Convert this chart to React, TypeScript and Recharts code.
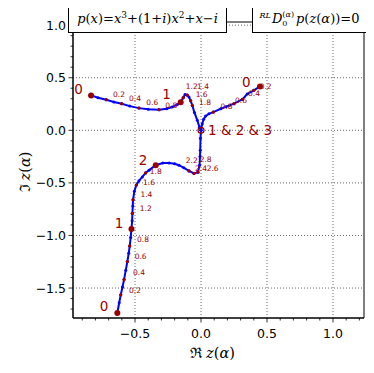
import React from 'react';
import { ScatterChart, Scatter, XAxis, YAxis, ReferenceLine, ReferenceArea, Label } from 'recharts';

// axis ranges and ticks (major every 0.5, minor every 0.1)
const xDomain = [-0.97, 1.235];
const yDomain = [-1.785, 1.03];
const xTickValues = [-0.9, -0.8, -0.7, -0.6, -0.5, -0.4, -0.3, -0.2, -0.1, 0, 0.1, 0.2, 0.3, 0.4, 0.5, 0.6, 0.7, 0.8, 0.9, 1.0, 1.1, 1.2];
const yTickValues = [-1.7, -1.6, -1.5, -1.4, -1.3, -1.2, -1.1, -1.0, -0.9, -0.8, -0.7, -0.6, -0.5, -0.4, -0.3, -0.2, -0.1, 0, 0.1, 0.2, 0.3, 0.4, 0.5, 0.6, 0.7, 0.8, 0.9, 1.0];
const xGrid = [-0.5, 0, 0.5, 1.0];
const yGrid = [-1.5, -1.0, -0.5, 0, 0.5, 1.0];

// root trajectories z(alpha)
const curve1 = [
  { x: -0.833, y: 0.332 }, { x: -0.78, y: 0.31 }, { x: -0.718, y: 0.291 }, { x: -0.66, y: 0.27 },
  { x: -0.601, y: 0.253 }, { x: -0.54, y: 0.23 }, { x: -0.47, y: 0.211 }, { x: -0.4, y: 0.2 },
  { x: -0.318, y: 0.196 }, { x: -0.26, y: 0.205 }, { x: -0.22, y: 0.221 }, { x: -0.18, y: 0.245 },
  { x: -0.154, y: 0.268 }, { x: -0.135, y: 0.31 }, { x: -0.121, y: 0.341 }, { x: -0.105, y: 0.335 },
  { x: -0.091, y: 0.316 }, { x: -0.078, y: 0.28 }, { x: -0.066, y: 0.237 }, { x: -0.05, y: 0.17 },
  { x: -0.028, y: 0.095 }, { x: -0.012, y: 0.03 }, { x: 0, y: 0 },
];
const curve2 = [
  { x: 0.447, y: 0.417 }, { x: 0.4, y: 0.38 }, { x: 0.35, y: 0.345 }, { x: 0.313, y: 0.294 },
  { x: 0.25, y: 0.253 }, { x: 0.19, y: 0.225 }, { x: 0.15, y: 0.205 }, { x: 0.093, y: 0.173 },
  { x: 0.06, y: 0.157 }, { x: 0.035, y: 0.135 }, { x: 0.02, y: 0.105 }, { x: 0.009, y: 0.06 },
  { x: 0.002, y: 0.025 }, { x: 0, y: 0 },
];
const curve3 = [
  { x: -0.634, y: -1.737 }, { x: -0.62, y: -1.64 }, { x: -0.608, y: -1.564 }, { x: -0.595, y: -1.49 },
  { x: -0.583, y: -1.42 }, { x: -0.57, y: -1.33 }, { x: -0.558, y: -1.248 }, { x: -0.548, y: -1.17 },
  { x: -0.54, y: -1.1 }, { x: -0.533, y: -1.02 }, { x: -0.527, y: -0.938 }, { x: -0.522, y: -0.86 },
  { x: -0.52, y: -0.79 }, { x: -0.517, y: -0.72 }, { x: -0.515, y: -0.66 }, { x: -0.505, y: -0.58 },
  { x: -0.49, y: -0.52 }, { x: -0.47, y: -0.48 }, { x: -0.445, y: -0.443 }, { x: -0.42, y: -0.405 },
  { x: -0.394, y: -0.379 }, { x: -0.343, y: -0.332 }, { x: -0.29, y: -0.312 }, { x: -0.242, y: -0.31 },
  { x: -0.2, y: -0.318 }, { x: -0.167, y: -0.332 }, { x: -0.13, y: -0.357 }, { x: -0.091, y: -0.386 },
  { x: -0.053, y: -0.41 }, { x: -0.023, y: -0.398 }, { x: -0.011, y: -0.332 }, { x: -0.008, y: -0.25 },
  { x: -0.006, y: -0.19 }, { x: -0.004, y: -0.076 }, { x: 0, y: 0 },
];

// small red marks at labelled alpha steps
const stepMarks = [
  { x: -0.718, y: 0.291 }, { x: -0.601, y: 0.253 }, { x: -0.47, y: 0.211 }, { x: -0.318, y: 0.196 },
  { x: -0.135, y: 0.31 }, { x: -0.105, y: 0.335 }, { x: -0.078, y: 0.28 }, { x: -0.066, y: 0.237 },
  { x: 0.4, y: 0.38 }, { x: 0.313, y: 0.294 }, { x: 0.25, y: 0.253 }, { x: 0.093, y: 0.173 },
  { x: -0.608, y: -1.564 }, { x: -0.583, y: -1.42 }, { x: -0.558, y: -1.248 }, { x: -0.54, y: -1.1 },
  { x: -0.52, y: -0.79 }, { x: -0.515, y: -0.66 }, { x: -0.49, y: -0.52 }, { x: -0.42, y: -0.405 },
  { x: -0.091, y: -0.386 }, { x: -0.053, y: -0.41 }, { x: -0.023, y: -0.398 },
];
// integer alpha markers
const intMarks = [
  { x: -0.833, y: 0.332 }, { x: -0.154, y: 0.268 }, { x: 0.447, y: 0.417 },
  { x: -0.634, y: -1.737 }, { x: -0.527, y: -0.938 }, { x: -0.343, y: -0.332 },
];
const origin = [{ x: 0, y: 0 }];

const bigLabels = [
  { x: -0.928, y: 0.389, text: '0' }, { x: -0.262, y: 0.34, text: '1' }, { x: 0.343, y: 0.458, text: '0' },
  { x: -0.735, y: -1.678, text: '0' }, { x: -0.621, y: -0.882, text: '1' }, { x: -0.439, y: -0.284, text: '2' },
];
const smallLabels = [
  { x: -0.621, y: 0.341, text: '0.2' }, { x: -0.5, y: 0.303, text: '0.4' }, { x: -0.369, y: 0.265, text: '0.6' },
  { x: -0.225, y: 0.24, text: '0.8' }, { x: -0.07, y: 0.415, text: '1.2' }, { x: 0.015, y: 0.42, text: '1.4' },
  { x: 0.005, y: 0.34, text: '1.6' }, { x: 0.03, y: 0.265, text: '1.8' },
  { x: 0.49, y: 0.417, text: '0.2' }, { x: 0.402, y: 0.351, text: '0.4' }, { x: 0.303, y: 0.284, text: '0.6' },
  { x: 0.193, y: 0.223, text: '0.8' },
  { x: -0.5, y: -1.526, text: '0.2' }, { x: -0.47, y: -1.355, text: '0.4' }, { x: -0.457, y: -1.204, text: '0.6' },
  { x: -0.439, y: -1.043, text: '0.8' }, { x: -0.419, y: -0.739, text: '1.2' }, { x: -0.414, y: -0.607, text: '1.4' },
  { x: -0.394, y: -0.5, text: '1.6' }, { x: -0.343, y: -0.395, text: '1.8' },
  { x: -0.07, y: -0.29, text: '2.2' }, { x: 0.0, y: -0.362, text: '2.4' }, { x: 0.088, y: -0.362, text: '2.6' },
  { x: 0.035, y: -0.28, text: '2.8' },
];
const meetLabel = [{ x: 0.053, y: 0, text: '1 & 2 & 3' }];

const BLUE = '#0000ff';
const RED = '#9b0000';
const SANS = '"DejaVu Sans", sans-serif';
const SERIF = '"DejaVu Serif", serif';

const isMajor = (v: number) => Math.abs(v * 2 - Math.round(v * 2)) < 1e-6;
const fmt = (v: number) => v.toFixed(1).replace('-', '\u2212');

const XTick = (p: any) => {
  const v = p.payload.value;
  const major = isMajor(v);
  return (
    <g>
      <line x1={p.x} x2={p.x} y1={p.y} y2={p.y + (major ? 4.5 : 2.5)} stroke="#000" strokeWidth={0.8} />
      {major && (
        <text x={p.x} y={p.y + 20} textAnchor="middle" fontSize={12.5} fontFamily={SANS} fill="#000">{fmt(v)}</text>
      )}
    </g>
  );
};

const YTick = (p: any) => {
  const v = p.payload.value;
  const major = isMajor(v);
  return (
    <g>
      <line x1={p.x} x2={p.x - (major ? 4.5 : 2.5)} y1={p.y} y2={p.y} stroke="#000" strokeWidth={0.8} />
      {major && (
        <text x={p.x - 7} y={p.y + 4.5} textAnchor="end" fontSize={12.5} fontFamily={SANS} fill="#000">{fmt(v)}</text>
      )}
    </g>
  );
};

const blueDot = (p: any) => <circle cx={p.cx} cy={p.cy} r={1.5} fill={BLUE} />;
const redDot = (p: any) => <circle cx={p.cx} cy={p.cy} r={1.6} fill={RED} />;
const bigDot = (p: any) => <circle cx={p.cx} cy={p.cy} r={3} fill={RED} />;
const ring = (p: any) => <circle cx={p.cx} cy={p.cy} r={3} fill="none" stroke={RED} strokeWidth={1.2} />;
const textOf = (p: any) => (p.payload && p.payload.text) || p.text;
const bigText = (p: any) => (
  <text x={p.cx} y={p.cy + 4.5} textAnchor="middle" fontSize={13.5} fontFamily={SANS} fill={RED}>{textOf(p)}</text>
);
const smallText = (p: any) => (
  <text x={p.cx} y={p.cy + 2.5} textAnchor="middle" fontSize={7.5} fontFamily={SANS} fill={RED}>{textOf(p)}</text>
);
const startText = (p: any) => (
  <text x={p.cx} y={p.cy + 5} textAnchor="start" fontSize={13.5} fontFamily={SANS} fill={RED}>{textOf(p)}</text>
);

const boxStyle: React.CSSProperties = {
  position: 'absolute',
  top: -4,
  height: 27,
  border: '1.3px solid #000',
  background: '#fff',
  fontFamily: SERIF,
  fontSize: 13,
  display: 'flex',
  alignItems: 'center',
  justifyContent: 'center',
  whiteSpace: 'nowrap',
  color: '#000',
};

export default function App() {
  return (
    <div style={{ position: 'relative', width: 366, height: 365 }}>
      <ScatterChart width={366} height={365} margin={{ top: 14, right: 10, bottom: 8, left: 8 }}>
        <XAxis
          type="number"
          dataKey="x"
          domain={xDomain}
          ticks={xTickValues}
          interval={0}
          allowDataOverflow
          tickLine={false}
          tickSize={0}
          tickMargin={0}
          tick={<XTick />}
          height={47}
          axisLine={{ stroke: '#000' }}
        >
          <Label
            content={(lp: any) => {
              const vb = lp.viewBox;
              return (
                <text x={vb.x + vb.width / 2 - 6} y={vb.y + 40} textAnchor="middle" fontSize={14.5} fontFamily={SERIF} fill="#000">
                  <tspan>ℜ</tspan>
                  <tspan fontStyle="italic" dx={4}>z</tspan>
                  <tspan>(</tspan>
                  <tspan fontStyle="italic">α</tspan>
                  <tspan>)</tspan>
                </text>
              );
            }}
          />
        </XAxis>
        <YAxis
          type="number"
          dataKey="y"
          domain={yDomain}
          ticks={yTickValues}
          interval={0}
          allowDataOverflow
          tickLine={false}
          tickSize={0}
          tickMargin={0}
          tick={<YTick />}
          width={57}
          axisLine={{ stroke: '#000' }}
        >
          <Label
            content={(lp: any) => {
              const vb = lp.viewBox;
              const cx = vb.x + 9;
              const cy = vb.y + vb.height / 2 + 2;
              return (
                <text x={cx} y={cy} transform={`rotate(-90 ${cx} ${cy})`} textAnchor="middle" dominantBaseline="central" fontSize={14.5} fontFamily={SERIF} fill="#000">
                  <tspan>ℑ</tspan>
                  <tspan fontStyle="italic" dx={4}>z</tspan>
                  <tspan>(</tspan>
                  <tspan fontStyle="italic">α</tspan>
                  <tspan>)</tspan>
                </text>
              );
            }}
          />
        </YAxis>

        {xGrid.map((v) => (
          <ReferenceLine key={'gx' + v} x={v} stroke="#444" strokeWidth={0.8} strokeDasharray="1 2" />
        ))}
        {yGrid.map((v) => (
          <ReferenceLine key={'gy' + v} y={v} stroke="#444" strokeWidth={0.8} strokeDasharray="1 2" />
        ))}

        <Scatter data={curve1} line={{ stroke: BLUE, strokeWidth: 2 }} shape={blueDot} isAnimationActive={false} />
        <Scatter data={curve2} line={{ stroke: BLUE, strokeWidth: 2 }} shape={blueDot} isAnimationActive={false} />
        <Scatter data={curve3} line={{ stroke: BLUE, strokeWidth: 2 }} shape={blueDot} isAnimationActive={false} />
        <Scatter data={stepMarks} shape={redDot} isAnimationActive={false} />
        <Scatter data={intMarks} shape={bigDot} isAnimationActive={false} />
        <Scatter data={origin} shape={ring} isAnimationActive={false} />
        <Scatter data={smallLabels} shape={smallText} isAnimationActive={false} />
        <Scatter data={bigLabels} shape={bigText} isAnimationActive={false} />
        <Scatter data={meetLabel} shape={startText} isAnimationActive={false} />

        <ReferenceArea
          x1={xDomain[0]}
          x2={xDomain[1]}
          y1={yDomain[0]}
          y2={yDomain[1]}
          fill="none"
          stroke="#000"
          strokeWidth={1}
          ifOverflow="visible"
        />
      </ScatterChart>

      <div style={{ ...boxStyle, left: 60, width: 157 }}>
        <span>
          <i>p</i>(<i>x</i>)=<i>x</i><sup style={{ fontSize: 9 }}>3</sup>+(1+<i>i</i>)<i>x</i>
          <sup style={{ fontSize: 9 }}>2</sup>+<i>x</i>−<i>i</i>
        </span>
      </div>
      <div style={{ ...boxStyle, left: 244, width: 113 }}>
        <span style={{ display: 'inline-flex', alignItems: 'center' }}>
          <span style={{ fontSize: 8, fontStyle: 'italic', alignSelf: 'flex-start', marginTop: 1 }}>RL</span>
          <i style={{ marginLeft: 1 }}>D</i>
          <span style={{ display: 'inline-flex', flexDirection: 'column', fontSize: 8, lineHeight: '9px', marginRight: 2 }}>
            <span>(<i>α</i>)</span>
            <span>0</span>
          </span>
          <i>p</i>(<i>z</i>(<i>α</i>))=0
        </span>
      </div>
    </div>
  );
}
